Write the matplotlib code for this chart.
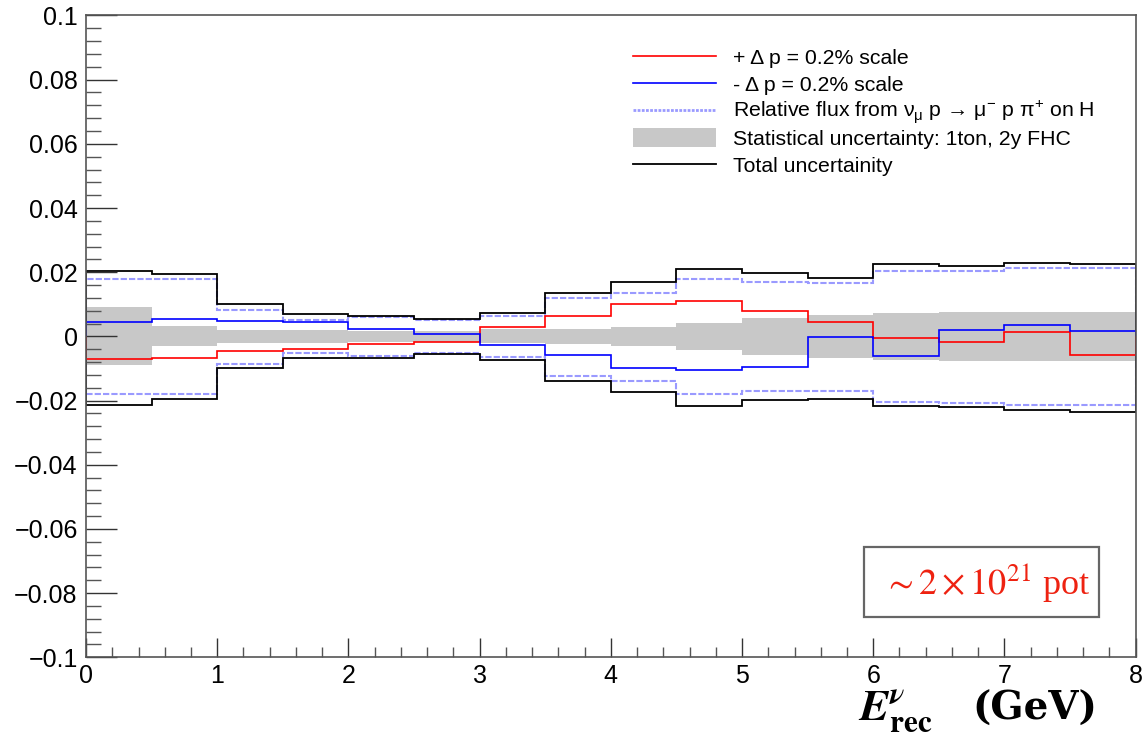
import numpy as np
import matplotlib
matplotlib.use("Agg")
import matplotlib.pyplot as plt
from matplotlib.lines import Line2D
from matplotlib.patches import Rectangle
from matplotlib.ticker import FixedLocator, MultipleLocator, FuncFormatter

plt.rcParams['font.family'] = ['Liberation Sans', 'DejaVu Sans']

# 16 bins of 0.5 GeV from 0 to 8 GeV
edges = np.arange(0, 8.01, 0.5)

plus_dp = [-0.0071, -0.0066, -0.0046, -0.0040, -0.0025, -0.0018, 0.0028, 0.0063,
           0.0101, 0.0110, 0.0079, 0.0045, -0.0006, -0.0018, 0.0013, -0.0058]
minus_dp = [0.0046, 0.0053, 0.0048, 0.0046, 0.0024, 0.0007, -0.0028, -0.0058,
            -0.0098, -0.0104, -0.0094, -0.0001, -0.0060, 0.0020, 0.0036, 0.0016]
flux_up = [0.0179, 0.0180, 0.0082, 0.0050, 0.0059, 0.0051, 0.0063, 0.0120,
           0.0136, 0.0179, 0.0168, 0.0167, 0.0204, 0.0204, 0.0213, 0.0213]
flux_dn = [-0.0180, -0.0180, -0.0085, -0.0053, -0.0061, -0.0051, -0.0065, -0.0122,
           -0.0138, -0.0181, -0.0170, -0.0170, -0.0206, -0.0208, -0.0214, -0.0214]
stat = [0.0090, 0.0031, 0.0020, 0.0020, 0.0016, 0.0016, 0.0022, 0.0023,
        0.0030, 0.0042, 0.0058, 0.0068, 0.0074, 0.0077, 0.0077, 0.0077]
total_up = [0.0204, 0.0193, 0.0100, 0.0069, 0.0065, 0.0054, 0.0074, 0.0134,
            0.0169, 0.0210, 0.0199, 0.0182, 0.0225, 0.0219, 0.0229, 0.0226]
total_dn = [-0.0213, -0.0195, -0.0100, -0.0068, -0.0066, -0.0054, -0.0073, -0.0138,
            -0.0174, -0.0216, -0.0197, -0.0194, -0.0216, -0.0219, -0.0229, -0.0236]

labels = ['+ \u0394 p = 0.2% scale',
          '- \u0394 p = 0.2% scale',
          'Relative flux from \u03bd$_\\mathregular{\u03bc}$ p \u2192 \u03bc$^\\mathregular{-}$ p '
          '\u03c0$^\\mathregular{+}$ on H',
          'Statistical uncertainty: 1ton, 2y FHC',
          'Total uncertainity']

W, H = 1144, 748
fig = plt.figure(figsize=(W / 100, H / 100), dpi=100)
ax = fig.add_axes([0.0752, 0.1213, 0.9175, 0.858])


def fx(px):
    return px / W


def fy(py):
    return 1 - py / H


stat = np.array(stat)
ax.stairs(stat, edges, baseline=-stat, fill=True, color='#c8c8c8', lw=0)

flux_col = '#9a9aff'
ax.stairs(flux_up, edges, color=flux_col, lw=1.5, ls=(0, (3, 1)))
ax.stairs(flux_dn, edges, color=flux_col, lw=1.5, ls=(0, (3, 1)))
ax.stairs(total_up, edges, color='black', lw=1.3)
ax.stairs(total_dn, edges, color='black', lw=1.3)
ax.stairs(plus_dp, edges, color='red', lw=1.2)
ax.stairs(minus_dp, edges, color='blue', lw=1.2)

ax.set_xlim(0, 8)
ax.set_ylim(-0.1, 0.1)

yt = np.round(np.arange(-0.1, 0.1001, 0.02), 3)
ax.yaxis.set_major_locator(FixedLocator(yt))
ax.yaxis.set_minor_locator(MultipleLocator(0.004))
ax.xaxis.set_major_locator(MultipleLocator(1))
ax.xaxis.set_minor_locator(MultipleLocator(0.2))


def yfmt(v, pos):
    if abs(v) < 1e-9:
        return '0'
    return ('%g' % v).replace('-', '\u2212')


ax.yaxis.set_major_formatter(FuncFormatter(yfmt))

ax.tick_params(axis='both', which='both', direction='in', top=False, right=False,
               labelsize=18, color='#333333')
ax.tick_params(axis='y', which='major', length=22, width=1, pad=6)
ax.tick_params(axis='y', which='minor', length=11, width=1, color='#555555')
ax.tick_params(axis='x', which='major', length=13.5, width=1, pad=5)
ax.tick_params(axis='x', which='minor', length=7, width=1, color='#555555')
for s in ax.spines.values():
    s.set_color('#555555')
    s.set_linewidth(1.2)

# legend, drawn row by row (ROOT-like fixed row height)
row_y = [56, 83, 110, 137, 164]
x0, x1, xt = 633, 716, 733
styles = [dict(color='red', lw=1.2),
          dict(color='blue', lw=1.2),
          dict(color=flux_col, lw=2.0, ls=(0, (1, 0.5))),
          None,
          dict(color='black', lw=1.3)]
for yy, st, lab in zip(row_y, styles, labels):
    if st is None:
        fig.add_artist(Rectangle((fx(x0), fy(yy + 9.5)), fx(x1) - fx(x0), 19 / H,
                                 transform=fig.transFigure, facecolor='#c8c8c8',
                                 edgecolor='none'))
    else:
        fig.add_artist(Line2D([fx(x0), fx(x1)], [fy(yy), fy(yy)],
                              transform=fig.transFigure, **st))
    fig.text(fx(xt), fy(yy + 7.6), lab, fontsize=15.3, ha='left', va='baseline')

# exposure box
fig.add_artist(Rectangle((fx(864), fy(617)), 235 / W, 70 / H,
                         transform=fig.transFigure, fill=False,
                         edgecolor='#666666', lw=1.6))
fig.text(fx(987), fy(582), r'$\sim 2\times10^{21}$ pot', color='#ee2211',
         fontsize=26, family='Liberation Serif', math_fontfamily='stix',
         ha='center', va='center')

# x-axis title  E^nu_rec (GeV)
fig.text(fx(858), fy(720), r'$\mathbfit{E}^{\mathbfit{\nu}}_{\mathbf{rec}}$',
         fontsize=32, math_fontfamily='stix', ha='left', va='baseline')
fig.text(fx(1097), fy(720), '(GeV)', family='DejaVu Serif', weight='bold',
         fontsize=28, ha='right', va='baseline')

fig.savefig('out.png', dpi=100)
